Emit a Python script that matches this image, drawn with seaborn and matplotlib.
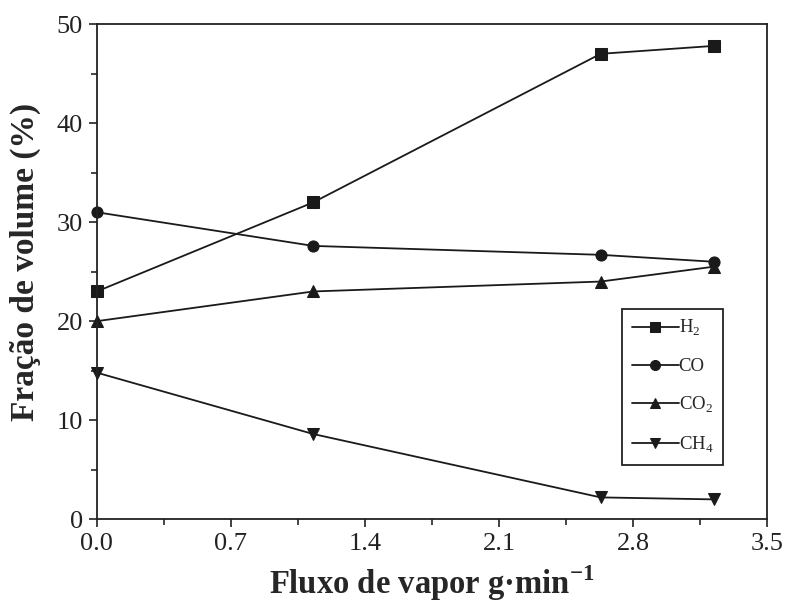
import matplotlib
matplotlib.use("Agg")
import matplotlib.pyplot as plt
import seaborn as sns
import pandas as pd
from matplotlib.ticker import MultipleLocator

# Steam flow (g/min) and gas volume fractions (%)
steam_flow = [0.0, 1.13, 2.63, 3.22]
h2 = [23.0, 32.0, 47.0, 47.8]
co = [31.0, 27.6, 26.7, 26.0]
co2 = [20.0, 23.0, 24.0, 25.5]
ch4 = [14.8, 8.6, 2.2, 2.0]

series_names = ["H$_2$", "CO", "CO$_2$", "CH$_4$"]
series_values = [h2, co, co2, ch4]
series_markers = ["s", "o", "^", "v"]

sns.set_theme(style="ticks")
plt.rcParams["font.family"] = ["Liberation Serif", "DejaVu Serif"]
plt.rcParams["mathtext.fontset"] = "custom"
plt.rcParams["mathtext.rm"] = "Liberation Serif"
plt.rcParams["mathtext.bf"] = "Liberation Serif:bold"

fig = plt.figure(figsize=(7.87, 6.03), dpi=100)
ax = fig.add_axes([0.123, 0.139, 0.852, 0.821])

line_color = "#1a1a1a"
for name, vals, mk in zip(series_names, series_values, series_markers):
    df = pd.DataFrame({"x": steam_flow, "y": vals})
    sns.lineplot(data=df, x="x", y="y", ax=ax, color=line_color, lw=1.3,
                 marker=mk, markersize=8, markeredgecolor=line_color,
                 markerfacecolor=line_color, label=name, clip_on=False)

ax.set_xlim(0, 3.5)
ax.set_ylim(0, 50)
ax.xaxis.set_major_locator(MultipleLocator(0.7))
ax.xaxis.set_minor_locator(MultipleLocator(0.35))
ax.yaxis.set_major_locator(MultipleLocator(10))
ax.yaxis.set_minor_locator(MultipleLocator(5))
ax.set_xticklabels([f"{v:.1f}" for v in ax.get_xticks()])
ax.tick_params(axis="both", which="major", direction="out", length=6, width=1.2,
               labelsize=19, colors="#222222", pad=4)
ax.tick_params(axis="both", which="minor", direction="out", length=4, width=1.2)
for sp in ax.spines.values():
    sp.set_linewidth(1.3)
    sp.set_color("#222222")

ax.set_xlabel(r"Fluxo de vapor g·min$^{\mathbf{-1}}$", fontsize=23.5, fontweight="bold", labelpad=6)
ax.set_ylabel("Fração de volume (%)", fontsize=24, fontweight="bold", labelpad=8)
ax.yaxis.set_label_coords(-0.083, 0.52)

leg = ax.legend(loc="upper left", bbox_to_anchor=(0.784, 0.425), fontsize=13.5,
                frameon=True, fancybox=False, edgecolor="#222222", framealpha=1,
                handlelength=2.5, handletextpad=0.0, labelspacing=1.05,
                borderpad=0.5, borderaxespad=0, markerscale=0.9)
leg.get_frame().set_linewidth(1.3)

fig.savefig("out.png", dpi=100)
